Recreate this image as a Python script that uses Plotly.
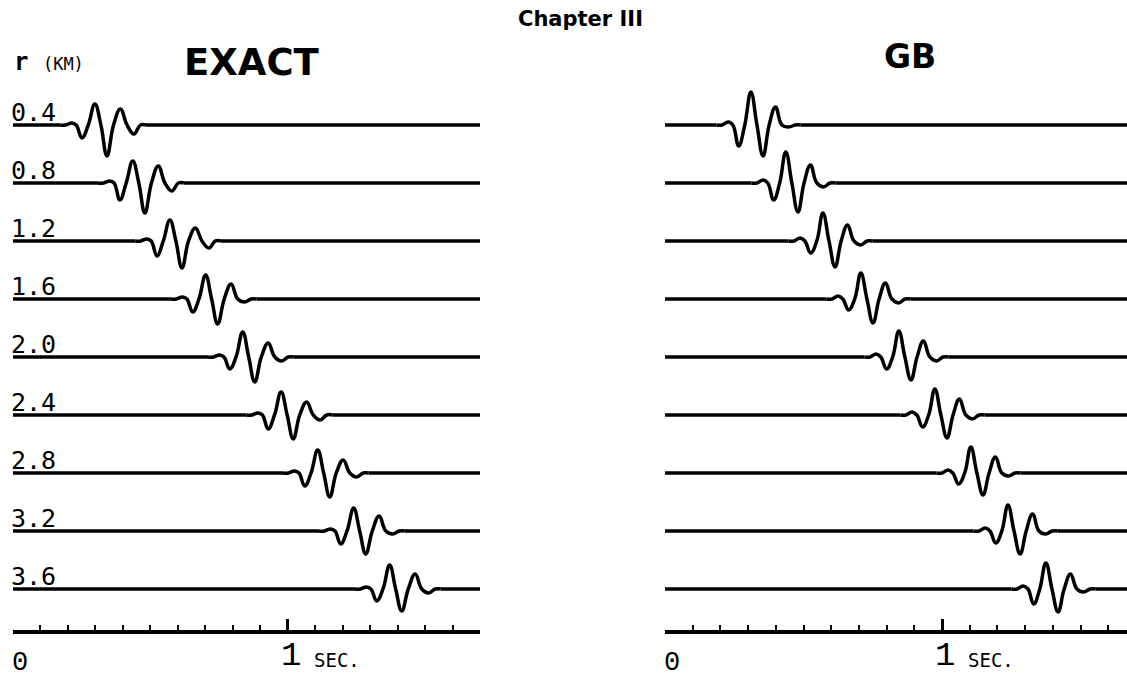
import plotly.graph_objects as go

# ---------------- data ----------------
distances_km = [0.4, 0.8, 1.2, 1.6, 2.0, 2.4, 2.8, 3.2, 3.6]
trace_labels = ["0.4", "0.8", "1.2", "1.6", "2.0", "2.4", "2.8", "3.2", "3.6"]

# time (s) of the deepest trough of each seismogram
exact_trough_t = [0.342, 0.480, 0.615, 0.745, 0.880, 1.020, 1.153, 1.284, 1.415]
gb_trough_t = [0.354, 0.480, 0.614, 0.751, 0.888, 1.018, 1.148, 1.282, 1.419]

# extrema amplitudes (up = +) : trough1, peak1, main trough, peak2, trough3
exact_extrema = [
    [-13, 21, -31, 16, -9],
    [-17, 22, -30, 17, -8],
    [-15, 21, -27, 13, -7],
    [-13, 24, -25, 15, -3],
    [-12, 25, -25, 14, -4],
    [-14, 23, -24, 13, -5],
    [-13, 23, -24, 13, -4],
    [-13, 23, -23, 15, -3],
    [-12, 24, -22, 15, -4],
]
gb_extrema = [
    [-21, 33, -31, 18, -2],
    [-17, 31, -29, 18, -4],
    [-12, 28, -26, 16, -4],
    [-11, 26, -24, 16, -4],
    [-12, 26, -23, 16, -4],
    [-12, 26, -23, 16, -4],
    [-11, 26, -22, 16, -3],
    [-12, 26, -23, 17, -3],
    [-15, 26, -23, 15, -3],
]
# time offsets (s) relative to the main trough:
# lead, onset, precursor bump, crossing, trough1, crossing, peak1, crossing, MAIN,
# crossing, peak2, crossing, trough3, end, tail
exact_offsets = [-0.170, -0.150, -0.128, -0.112, -0.091, -0.068, -0.044, -0.022, 0.0,
                 0.024, 0.049, 0.073, 0.098, 0.122, 0.142]
gb_offsets = [-0.168, -0.148, -0.126, -0.109, -0.088, -0.066, -0.044, -0.022, 0.0,
              0.022, 0.045, 0.068, 0.092, 0.116, 0.136]
exact_bump = 2
gb_bump = 3

T_MAX = 1.7
AMP_SCALE = 1.0 / 145.0   # amplitude units -> km of trace offset

fig = go.Figure()


def wavelet(tm, ext, offs, bump):
    amps = [0.0, 0.0, bump, 0.0, ext[0], 0.0, ext[1], 0.0, ext[2], 0.0, ext[3], 0.0, ext[4], 0.0, 0.0]
    return [tm + o for o in offs], amps


line_style = dict(color="black", width=3.5)
for panel, (times, exts, offs, bump) in enumerate([
    (exact_trough_t, exact_extrema, exact_offsets, exact_bump),
    (gb_trough_t, gb_extrema, gb_offsets, gb_bump),
]):
    xa = "x" if panel == 0 else "x2"
    ya = "y" if panel == 0 else "y2"
    for r, tm, ext in zip(distances_km, times, exts):
        xs, amps = wavelet(tm, ext, offs, bump)
        # flat baseline before and after the wavelet
        fig.add_trace(go.Scatter(
            x=[0.0, xs[0], None, xs[-1], T_MAX], y=[r, r, None, r, r],
            mode="lines", line=line_style, xaxis=xa, yaxis=ya,
            showlegend=False, hoverinfo="skip"))
        fig.add_trace(go.Scatter(
            x=xs, y=[r - a * AMP_SCALE for a in amps],
            mode="lines", line=dict(shape="spline", smoothing=1.2, **line_style),
            xaxis=xa, yaxis=ya, showlegend=False, hoverinfo="skip"))

Y_BOTTOM = 1 - 630 / 679
yrange = [3.883, -0.462]

axis_common = dict(
    showgrid=False, zeroline=False, showline=True, linecolor="black", linewidth=4,
    ticks="inside", tickvals=[0, 1], ticklen=11, tickwidth=2.5, tickcolor="black",
    showticklabels=False,
    minor=dict(dtick=0.1, tick0=0, ticks="inside", ticklen=5, tickwidth=2, tickcolor="black"),
)
fig.update_layout(
    width=1127, height=679, margin=dict(l=0, r=0, t=0, b=0),
    paper_bgcolor="white", plot_bgcolor="white",
    xaxis=dict(domain=[13 / 1127, 480 / 1127], range=[0, T_MAX], anchor="y", **axis_common),
    xaxis2=dict(domain=[665 / 1127, 1.0], range=[0, (1127 - 665) / 277], anchor="y2", **axis_common),
    yaxis=dict(domain=[Y_BOTTOM, 1], range=yrange, visible=False, anchor="x"),
    yaxis2=dict(domain=[Y_BOTTOM, 1], range=yrange, visible=False, anchor="x2"),
)

mono = "DejaVu Sans Mono"
anns = []
for r, lab in zip(distances_km, trace_labels):
    anns.append(dict(x=0, y=r, xref="x", yref="y", text=lab, showarrow=False,
                     xanchor="left", yanchor="bottom", xshift=-4, yshift=-4,
                     font=dict(family=mono, size=25, color="black")))
# axis labels
for xr in ("x", "x2"):
    anns.append(dict(x=0, y=1 - 663 / 679, xref=xr, yref="paper", text="0", showarrow=False,
                     xanchor="left", yanchor="middle", xshift=-3,
                     font=dict(family="Liberation Mono", size=27, color="black")))
    anns.append(dict(x=1, y=1 - 656 / 679, xref=xr, yref="paper", text="1", showarrow=False,
                     xanchor="center", yanchor="middle", xshift=3,
                     font=dict(family="Liberation Mono", size=34, color="black")))
    anns.append(dict(x=1, y=1 - 660 / 679, xref=xr, yref="paper", text="SEC.", showarrow=False,
                     xanchor="left", yanchor="middle", xshift=24,
                     font=dict(family=mono, size=19, color="black")))
# titles
anns.append(dict(x=580 / 1127, y=1 - 19 / 679, xref="paper", yref="paper", text="<b>Chapter III</b>",
                 showarrow=False, xanchor="center", yanchor="middle",
                 font=dict(family="DejaVu Sans", size=21, color="black")))
anns.append(dict(x=252 / 1127, y=1 - 62 / 679, xref="paper", yref="paper", text="<b>EXACT</b>",
                 showarrow=False, xanchor="center", yanchor="middle",
                 font=dict(family="DejaVu Sans", size=37, color="black")))
anns.append(dict(x=910 / 1127, y=1 - 56 / 679, xref="paper", yref="paper", text="<b>GB</b>",
                 showarrow=False, xanchor="center", yanchor="middle",
                 font=dict(family="DejaVu Sans", size=33, color="black")))
anns.append(dict(x=12 / 1127, y=1 - 62 / 679, xref="paper", yref="paper",
                 text="<b>r</b> <span style='font-size:17px'>(KM)</span>",
                 showarrow=False, xanchor="left", yanchor="middle",
                 font=dict(family=mono, size=24, color="black")))
fig.update_layout(annotations=anns)

fig.write_html("out.html")
